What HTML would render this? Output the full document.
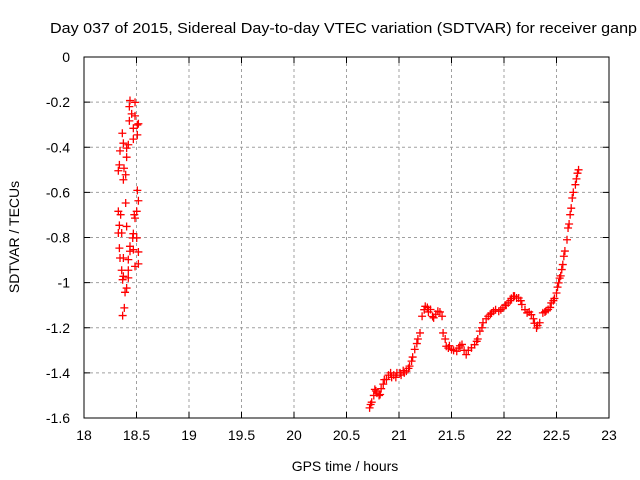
<!DOCTYPE html>
<html><head><meta charset="utf-8"><style>
body{margin:0;background:#fff}
svg{display:block;font-family:"Liberation Sans",sans-serif}
</style></head><body>
<svg id="chart" width="640" height="480">
<text x="50" y="33" font-size="15" textLength="587" lengthAdjust="spacingAndGlyphs">Day 037 of 2015, Sidereal Day-to-day VTEC variation (SDTVAR) for receiver ganp</text>
<text x="345" y="471" font-size="14" text-anchor="middle">GPS time / hours</text>
<text transform="translate(19,237) rotate(-90)" font-size="14" text-anchor="middle">SDTVAR / TECUs</text>
<g id="grid"></g>
<g id="ticks"></g>
<g id="marks"></g>
<rect x="84" y="57" width="525" height="361" fill="none" stroke="#000" stroke-width="1"/>
</svg>
<script>
const xTicks=[18,18.5,19,19.5,20,20.5,21,21.5,22,22.5,23];
const xTickLabels=["18","18.5","19","19.5","20","20.5","21","21.5","22","22.5","23"];
const yTicks=[0,-0.2,-0.4,-0.6,-0.8,-1,-1.2,-1.4,-1.6];
const yTickLabels=["0","-0.2","-0.4","-0.6","-0.8","-1","-1.2","-1.4","-1.6"];
const hours=[18.438,18.486,18.432,18.454,18.486,18.432,18.470,18.508,18.518,18.508,18.365,18.470,18.375,18.422,18.406,18.343,18.406,18.337,18.381,18.327,18.397,18.375,18.508,18.518,18.397,18.502,18.327,18.349,18.479,18.486,18.337,18.406,18.327,18.359,18.470,18.502,18.464,18.337,18.470,18.438,18.438,18.518,18.343,18.375,18.422,18.518,18.486,18.359,18.422,18.375,18.422,18.368,18.406,18.391,18.384,18.368,
20.72,20.73,20.74,20.76,20.77,20.78,20.79,20.81,20.82,20.83,20.85,20.86,20.88,20.90,20.92,20.93,20.95,20.97,20.98,21.01,21.02,21.04,21.05,21.07,21.09,21.10,21.12,21.13,21.15,21.17,21.18,21.20,21.22,21.24,21.25,21.27,21.28,21.30,21.32,21.33,21.35,21.37,21.39,21.41,21.42,21.44,21.45,21.47,21.48,21.50,21.52,21.55,21.57,21.58,21.60,21.62,21.64,21.66,21.69,21.72,21.74,21.75,21.77,21.79,21.80,21.83,21.85,21.87,21.88,21.90,21.92,21.95,21.97,21.99,22.01,22.02,22.04,22.06,22.07,22.09,22.10,22.12,22.14,22.16,22.17,22.20,22.22,22.24,22.26,22.28,22.29,22.31,22.32,22.34,22.37,22.39,22.40,22.42,22.44,22.45,22.47,22.48,22.50,22.51,22.52,22.53,22.54,22.55,22.56,22.57,22.58,22.60,22.61,22.62,22.63,22.64,22.65,22.66,22.68,22.69,22.70,22.71];
const values=[-0.193,-0.201,-0.220,-0.252,-0.261,-0.283,-0.316,-0.301,-0.296,-0.345,-0.338,-0.364,-0.382,-0.389,-0.404,-0.416,-0.444,-0.478,-0.493,-0.504,-0.522,-0.544,-0.591,-0.637,-0.647,-0.684,-0.684,-0.699,-0.699,-0.714,-0.746,-0.751,-0.780,-0.780,-0.783,-0.802,-0.802,-0.847,-0.854,-0.839,-0.861,-0.864,-0.891,-0.891,-0.898,-0.917,-0.928,-0.945,-0.945,-0.972,-0.979,-0.987,-1.024,-1.043,-1.112,-1.146,
-1.555,-1.54,-1.53,-1.50,-1.473,-1.48,-1.49,-1.50,-1.496,-1.47,-1.45,-1.43,-1.429,-1.41,-1.40,-1.42,-1.41,-1.42,-1.40,-1.400,-1.41,-1.39,-1.40,-1.392,-1.38,-1.37,-1.348,-1.33,-1.296,-1.27,-1.25,-1.223,-1.149,-1.12,-1.105,-1.11,-1.13,-1.119,-1.15,-1.156,-1.14,-1.127,-1.13,-1.149,-1.223,-1.25,-1.282,-1.29,-1.28,-1.296,-1.30,-1.304,-1.29,-1.28,-1.274,-1.30,-1.319,-1.30,-1.289,-1.275,-1.260,-1.25,-1.215,-1.20,-1.178,-1.16,-1.149,-1.14,-1.135,-1.127,-1.12,-1.127,-1.12,-1.112,-1.10,-1.10,-1.090,-1.08,-1.07,-1.060,-1.06,-1.068,-1.068,-1.08,-1.097,-1.12,-1.134,-1.13,-1.142,-1.16,-1.18,-1.201,-1.19,-1.178,-1.134,-1.13,-1.125,-1.119,-1.11,-1.090,-1.08,-1.07,-1.046,-1.02,-1.001,-0.98,-0.97,-0.942,-0.92,-0.883,-0.86,-0.810,-0.758,-0.74,-0.699,-0.67,-0.625,-0.60,-0.566,-0.54,-0.515,-0.50,-0.485];
const X0=84,X1=609,Y0=57,Y1=418;
const xs=h=>X0+(h-18)/(23-18)*(X1-X0);
const ys=v=>Y0+(0-v)/(1.6)*(Y1-Y0);
const NS="http://www.w3.org/2000/svg";
const grid=document.getElementById('grid'),ticks=document.getElementById('ticks'),marks=document.getElementById('marks');
function mk(t,a,p){const e=document.createElementNS(NS,t);for(const k in a)e.setAttribute(k,a[k]);p.appendChild(e);return e;}
xTicks.forEach((t,i)=>{const x=xs(t);
 if(i>0&&i<xTicks.length-1){const g=mk('line',{x1:x,x2:x,y1:Y0,y2:Y1,stroke:'#a0a0a0','stroke-dasharray':'3,3'},grid);
 
 }
 const tk=mk('path',{d:`M${x},${Y1}v-6M${x},${Y0}v6`,stroke:'#000'},ticks);
 
 
 const l=mk('text',{x:x,y:Y1+22,'font-size':14,'text-anchor':'middle'},ticks);l.textContent=xTickLabels[i];
 
 });
yTicks.forEach((t,i)=>{const y=ys(t);
 if(i>0&&i<yTicks.length-1){const g=mk('line',{x1:X0,x2:X1,y1:y,y2:y,stroke:'#a0a0a0','stroke-dasharray':'3,3'},grid);
 
 }
 const tk=mk('path',{d:`M${X0},${y}h6M${X1},${y}h-6`,stroke:'#000'},ticks);
 
 
 const l=mk('text',{x:X0-14,y:y+5,'font-size':14,'text-anchor':'end'},ticks);l.textContent=yTickLabels[i];
 
 });
hours.forEach((h,i)=>{const x=xs(h),y=ys(values[i]);
 const p=mk('path',{d:`M${x-4},${y}h8M${x},${y-4}v8`,stroke:'#ff0000','stroke-width':1.3},marks);
 
 });
</script>
</body></html>
